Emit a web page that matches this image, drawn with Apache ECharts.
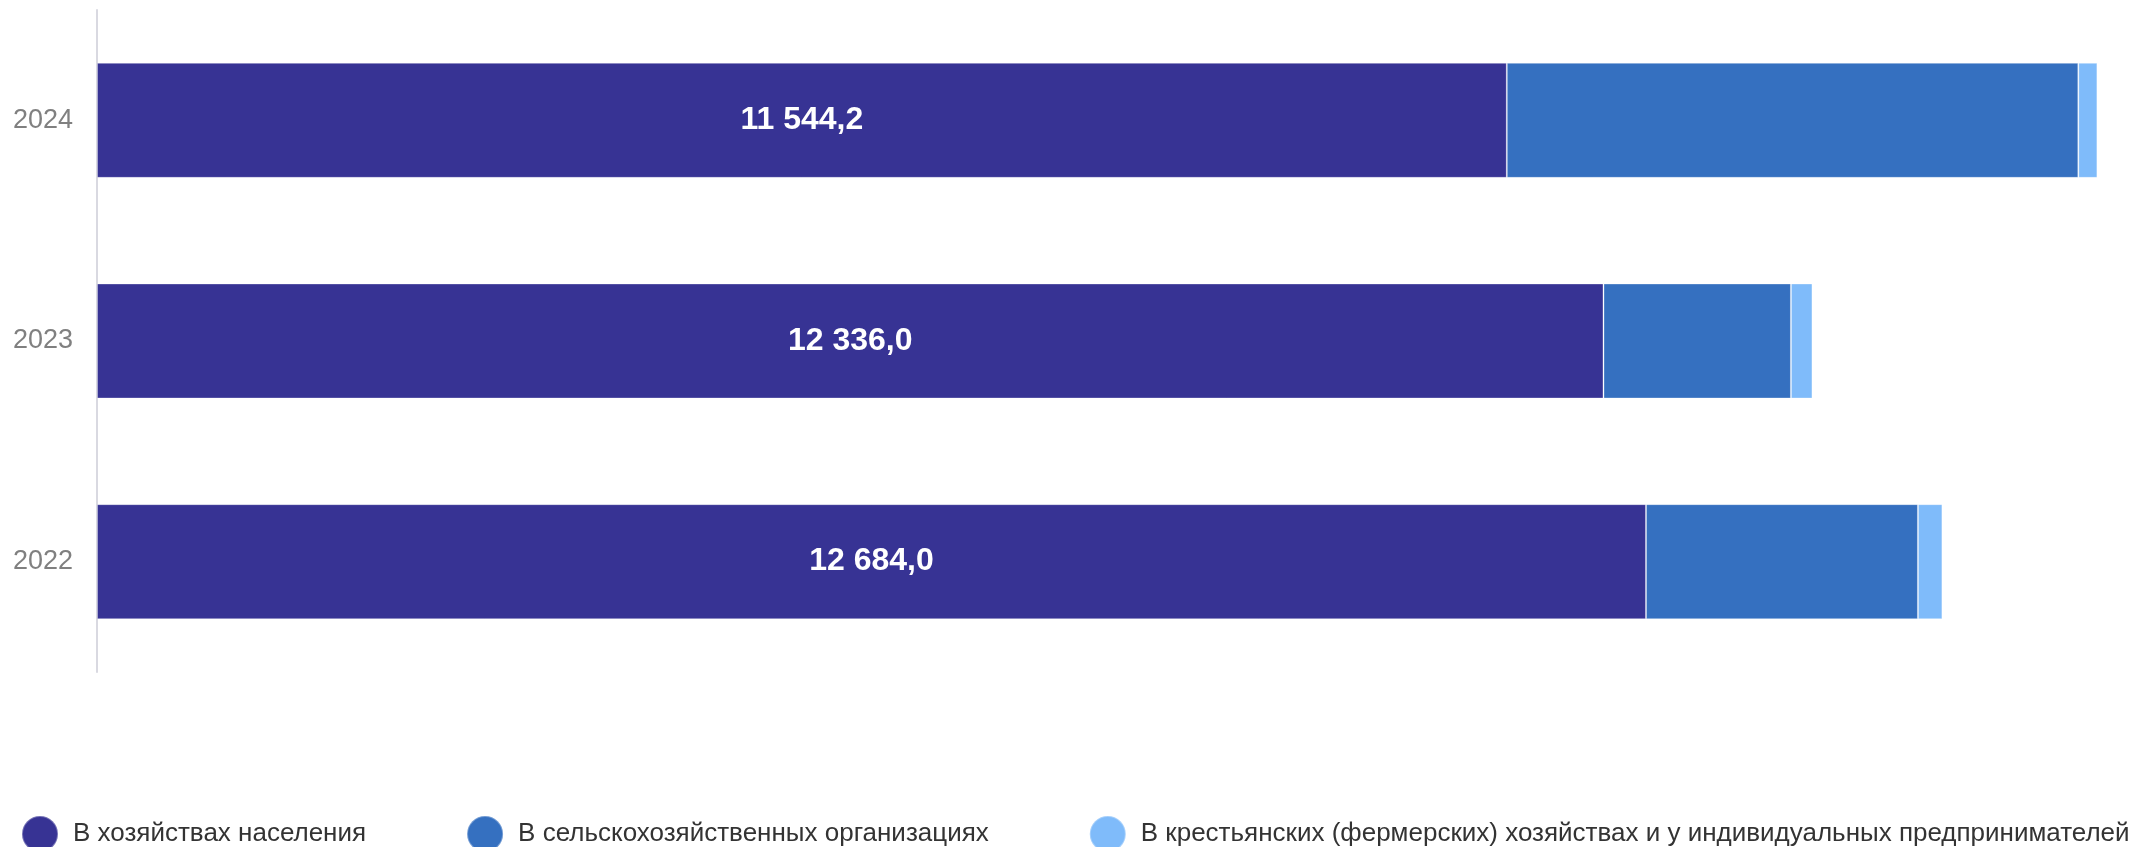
<!DOCTYPE html>
<html>
<head>
<meta charset="utf-8">
<script src="https://cdn.jsdelivr.net/npm/echarts@6/dist/echarts.min.js"></script>
<style>
  html, body { margin: 0; padding: 0; background: #fff; }
  #main { width: 2149px; height: 847px; }
</style>
</head>
<body>
<div id="main"></div>
<script>
// данные
var years = ['2022', '2023', '2024'];
var naselenie = [12684.0, 12336.0, 11544.2];
var selhozOrg = [2227, 1535, 4680];
var fermery = [200, 176, 156];
var seriesNames = [
  'В хозяйствах населения',
  'В сельскохозяйственных организациях',
  'В крестьянских (фермерских) хозяйствах и у индивидуальных предпринимателей'
];

function fmt(v) {
  var parts = v.toFixed(1).split('.');
  return parts[0].replace(/\B(?=(\d{3})+(?!\d))/g, ' ') + ',' + parts[1];
}

var FONT = '"Liberation Sans", Arial, sans-serif';
var myChart = echarts.init(document.getElementById('main'));
var border = { borderColor: 'rgba(255,255,255,0.3)', borderWidth: 1 };

myChart.setOption({
  animation: false,
  textStyle: { fontFamily: FONT },
  grid: { left: 97, right: 37, top: 10, bottom: 175, containLabel: false },
  legend: {
    top: 810,
    left: 16,
    width: 2400,
    icon: 'circle',
    itemWidth: 56,
    itemHeight: 36,
    itemGap: 100,
    textStyle: { fontSize: 26, color: '#333', fontFamily: FONT },
    data: seriesNames
  },
  xAxis: {
    type: 'value',
    min: 0,
    max: 16500,
    show: false
  },
  yAxis: {
    type: 'category',
    data: years,
    axisLine: { show: true, lineStyle: { color: '#d9d9e1', width: 2 } },
    axisTick: { show: false },
    axisLabel: { color: '#808080', fontSize: 27, margin: 24, fontFamily: FONT }
  },
  series: [
    {
      name: seriesNames[0],
      type: 'bar',
      stack: 'all',
      barWidth: 115,
      itemStyle: Object.assign({ color: '#373394' }, border),
      label: {
        show: true,
        position: 'inside',
        color: '#fff',
        fontWeight: 'bold',
        fontSize: 32,
        fontFamily: FONT,
        formatter: function (p) { return fmt(p.value); }
      },
      data: naselenie
    },
    {
      name: seriesNames[1],
      type: 'bar',
      stack: 'all',
      itemStyle: Object.assign({ color: '#3570c0' }, border),
      data: selhozOrg
    },
    {
      name: seriesNames[2],
      type: 'bar',
      stack: 'all',
      itemStyle: Object.assign({ color: '#7fbbfa' }, border),
      data: fermery
    }
  ]
});
</script>
</body>
</html>
